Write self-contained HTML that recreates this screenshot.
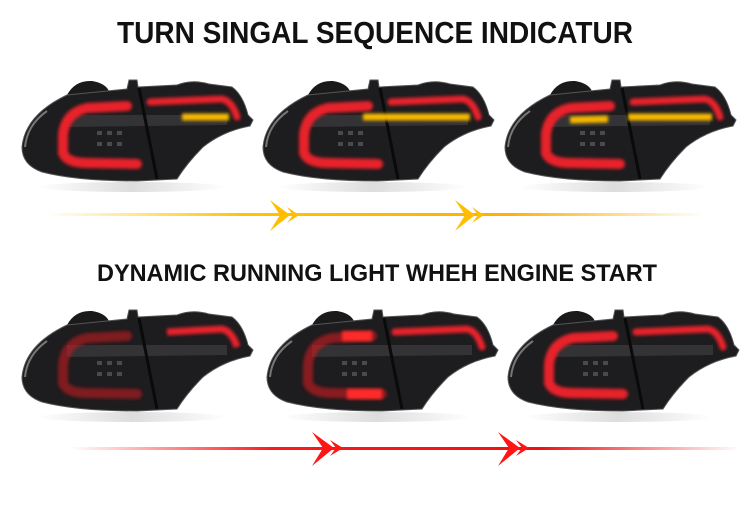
<!DOCTYPE html>
<html><head><style>
body{margin:0;background:#fff;width:750px;height:506px;overflow:hidden}
svg{display:block}
</style></head><body>
<svg width="750" height="506" viewBox="0 0 750 506">
<defs>
<filter id="g" filterUnits="userSpaceOnUse" x="-50" y="-50" width="400" height="250"><feGaussianBlur stdDeviation="1.6"/></filter>
<linearGradient id="ly" x1="0" x2="1"><stop offset="0" stop-color="#ffd000" stop-opacity="0"/><stop offset="0.3" stop-color="#ffc400"/><stop offset="0.7" stop-color="#ffb000"/><stop offset="1" stop-color="#ffb000" stop-opacity="0"/></linearGradient>
<linearGradient id="lr" x1="0" x2="1"><stop offset="0" stop-color="#ff2020" stop-opacity="0"/><stop offset="0.3" stop-color="#ff1a1a"/><stop offset="0.7" stop-color="#f01010"/><stop offset="1" stop-color="#f01010" stop-opacity="0"/></linearGradient>
<linearGradient id="sh" x1="0" x2="1"><stop offset="0" stop-color="#fff"/><stop offset="0.5" stop-color="#ddd"/><stop offset="1" stop-color="#fff"/></linearGradient>
<g id="body">
<ellipse cx="115" cy="112" rx="95" ry="5" fill="url(#sh)"/>
<path d="M50,20 Q58,5 75,6 Q88,8 92,16 Z" fill="#1a1a1a"/>
<path d="M5,72 Q8,40 50,20 L110,14 L112,5 L120,5 L121,12 L160,10 Q175,4 192,9 L215,12 Q226,20 231,40 L236,45 L233,51 Q206,56 186,72 Q170,88 160,104 L120,106 Q60,106 25,97 Q5,90 5,72 Z" fill="#1d1c1e" stroke="#555" stroke-width="1"/>
<path d="M8,72 Q10,50 30,36" stroke="#777" stroke-width="2" fill="none"/>
<path d="M50,40 L210,40 L210,50 L50,52 Z" fill="#333234"/>
<g fill="#4a4a4c"><rect x="80" y="56" width="5" height="4"/><rect x="90" y="56" width="5" height="4"/><rect x="100" y="56" width="5" height="4"/><rect x="80" y="67" width="5" height="4"/><rect x="90" y="67" width="5" height="4"/><rect x="100" y="67" width="5" height="4"/></g>
<path d="M122,13 L140,104" stroke="#0a0a0a" stroke-width="3"/>
</g>
<path id="c" d="M110,31 L70,33 Q48,38 46,60 L46,78 Q50,88 70,88 L120,89" fill="none" stroke-width="10" stroke-linecap="round"/>
<path id="b" d="M133,27 L205,24 Q215,26 220,42" fill="none" stroke-width="7" stroke-linecap="round"/>
</defs>

<text x="375" y="43" text-anchor="middle" font-family="Liberation Sans, sans-serif" font-weight="bold" font-size="31" fill="#111" textLength="516" lengthAdjust="spacingAndGlyphs">TURN SINGAL SEQUENCE INDICATUR</text>
<text x="377" y="281" text-anchor="middle" font-family="Liberation Sans, sans-serif" font-weight="bold" font-size="24" fill="#111" textLength="560" lengthAdjust="spacingAndGlyphs">DYNAMIC RUNNING LIGHT WHEH ENGINE START</text>

<!-- top row -->
<g transform="translate(17,75)"><use href="#body"/>
<use href="#c" stroke="#e8202a" filter="url(#g)"/><use href="#b" stroke="#e8202a" filter="url(#g)"/>
<path d="M165,42 L212,42" stroke="#f5b800" stroke-width="7" filter="url(#g)"/></g>
<g transform="translate(258,75)"><use href="#body"/>
<use href="#c" stroke="#e8202a" filter="url(#g)"/><use href="#b" stroke="#e8202a" filter="url(#g)"/>
<path d="M105,42 L212,42" stroke="#f5b800" stroke-width="7" filter="url(#g)"/></g>
<g transform="translate(500,75)"><use href="#body"/>
<use href="#c" stroke="#e8202a" filter="url(#g)"/><use href="#b" stroke="#e8202a" filter="url(#g)"/>
<path d="M70,45 L108,44" stroke="#f5b800" stroke-width="7" filter="url(#g)"/>
<path d="M128,42 L212,42" stroke="#f5b800" stroke-width="7" filter="url(#g)"/></g>

<rect x="45" y="213" width="660" height="3" fill="url(#ly)"/>
<g fill="#ffbe00"><path d="M270,200 L290,215 L270,231 L280,215 Z"/><path d="M287,207 L299,215 L287,223 L293,215 Z"/>
<path d="M455,200 L475,215 L455,231 L465,215 Z"/><path d="M472,207 L484,215 L472,223 L478,215 Z"/></g>

<!-- bottom row -->
<g transform="translate(17,305)"><use href="#body"/>
<use href="#c" stroke="#d01a22" opacity="0.55" filter="url(#g)"/><path d="M150,27 L205,24 Q215,26 220,42" fill="none" stroke="#e8202a" stroke-width="7" filter="url(#g)"/></g>
<g transform="translate(262,305)"><use href="#body"/>
<use href="#c" stroke="#d01a22" opacity="0.6" filter="url(#g)"/><use href="#b" stroke="#e8202a" filter="url(#g)"/>
<path d="M85,89 L120,89 M80,31 L110,31" stroke="#ff2a2a" stroke-width="10" filter="url(#g)"/></g>
<g transform="translate(503,305)"><use href="#body"/>
<use href="#c" stroke="#e8202a" filter="url(#g)"/><use href="#b" stroke="#e8202a" filter="url(#g)"/></g>

<rect x="70" y="447" width="670" height="3" fill="url(#lr)"/>
<g fill="#ff1515"><path d="M312,432 L334,448 L312,466 L323,448 Z"/><path d="M330,440 L343,448 L330,456 L336,448 Z"/>
<path d="M498,432 L520,448 L498,466 L509,448 Z"/><path d="M516,440 L529,448 L516,456 L522,448 Z"/></g>
</svg>
</body></html>
